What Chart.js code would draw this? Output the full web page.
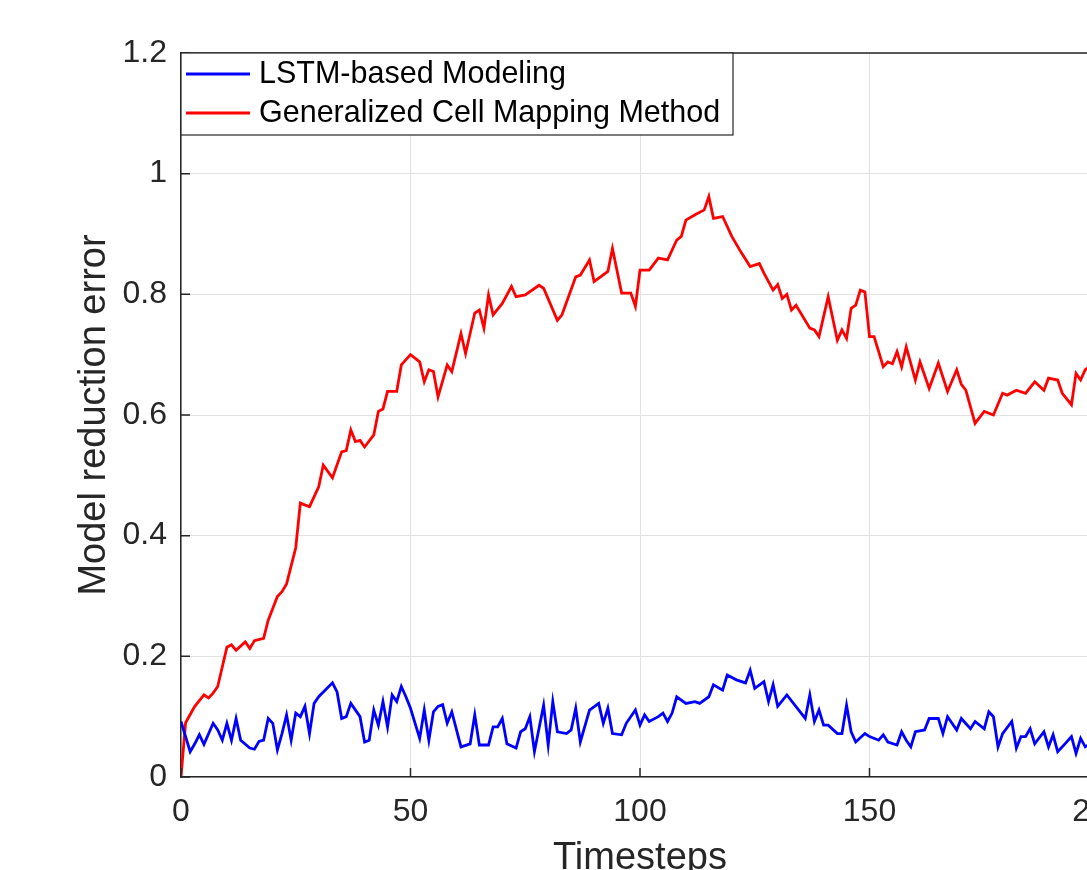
<!DOCTYPE html>
<html>
<head>
<meta charset="utf-8">
<script src="https://cdn.jsdelivr.net/npm/chart.js@4.4.1/dist/chart.umd.min.js"></script>
<style>
  html, body { margin: 0; padding: 0; background: #fff; overflow: hidden; }
  #wrap { width: 1087px; height: 870px; overflow: hidden; }
</style>
</head>
<body>
<div id="wrap"><canvas id="chart" width="1100" height="870"></canvas></div>
<script>
// Series (timestep, error)
const lstmSteps = [0,2,3,4,5,7,8,9,10,11,12,13,15,16,17,18,19,20,21,22,23,24,25,26,27,28,29,30,33,34,35,36,37,39,40,41,42,43,44,45,46,47,48,49,50,52,53,54,55,56,57,58,59,61,63,64,65,67,68,69,70,71,73,74,75,76,77,79,80,81,82,84,85,86,87,89,91,92,93,94,96,97,99,100,101,102,104,105,106,107,108,110,112,113,115,116,118,119,121,123,124,125,127,128,129,130,132,136,137,138,139,140,141,143,144,145,146,147,149,150,152,153,154,156,157,158,159,160,162,163,165,166,167,169,170,172,173,175,176,177,178,179,181,182,183,184,185,186,188,189,190,191,192,194,195,196,197,198];
const lstmError = [0.092,0.042,0.055,0.07,0.054,0.089,0.078,0.061,0.089,0.061,0.097,0.061,0.048,0.046,0.059,0.061,0.097,0.089,0.045,0.072,0.103,0.061,0.106,0.1,0.117,0.072,0.122,0.133,0.156,0.141,0.097,0.1,0.122,0.1,0.058,0.061,0.111,0.086,0.125,0.083,0.136,0.125,0.15,0.133,0.114,0.064,0.111,0.061,0.108,0.117,0.12,0.089,0.108,0.05,0.055,0.103,0.053,0.053,0.083,0.083,0.097,0.055,0.048,0.075,0.08,0.1,0.042,0.119,0.053,0.125,0.075,0.072,0.078,0.114,0.058,0.111,0.122,0.089,0.114,0.072,0.07,0.089,0.111,0.086,0.103,0.092,0.1,0.106,0.092,0.106,0.133,0.122,0.125,0.122,0.133,0.153,0.144,0.169,0.161,0.156,0.177,0.147,0.158,0.125,0.153,0.117,0.136,0.097,0.136,0.092,0.111,0.086,0.086,0.072,0.072,0.119,0.075,0.058,0.072,0.067,0.061,0.07,0.058,0.053,0.075,0.061,0.05,0.075,0.078,0.097,0.097,0.072,0.1,0.078,0.097,0.08,0.092,0.08,0.108,0.1,0.05,0.072,0.092,0.048,0.067,0.067,0.08,0.055,0.075,0.05,0.07,0.042,0.05,0.067,0.039,0.064,0.05,0.055];

const gcmSteps = [0,1,3,5,6,7,8,10,11,12,14,15,16,18,19,21,22,23,25,26,28,30,31,33,35,36,37,38,39,40,42,43,44,45,47,48,50,52,53,54,55,56,58,59,61,62,64,65,66,67,68,70,72,73,75,78,79,82,83,86,87,89,90,93,94,96,98,99,100,102,104,106,108,109,110,112,114,115,116,118,120,122,124,126,127,129,130,131,132,133,134,137,138,139,141,143,144,145,146,147,148,149,150,151,153,154,155,156,157,158,160,161,163,165,167,169,170,171,173,175,177,179,180,182,184,186,188,189,191,192,194,195,196,197,198];
const gcmError = [0,0.09,0.117,0.136,0.131,0.139,0.15,0.215,0.219,0.21,0.224,0.213,0.226,0.23,0.26,0.299,0.307,0.32,0.38,0.454,0.448,0.481,0.517,0.496,0.539,0.541,0.575,0.556,0.558,0.547,0.567,0.606,0.61,0.639,0.639,0.683,0.7,0.688,0.655,0.675,0.672,0.63,0.683,0.672,0.735,0.702,0.769,0.774,0.744,0.799,0.766,0.785,0.813,0.796,0.799,0.815,0.81,0.757,0.766,0.829,0.832,0.857,0.821,0.838,0.876,0.802,0.802,0.78,0.84,0.84,0.86,0.857,0.89,0.896,0.923,0.932,0.94,0.962,0.926,0.929,0.896,0.87,0.846,0.851,0.835,0.807,0.816,0.793,0.8,0.774,0.782,0.744,0.741,0.73,0.796,0.724,0.741,0.727,0.777,0.782,0.807,0.804,0.73,0.73,0.68,0.688,0.685,0.705,0.68,0.713,0.658,0.688,0.644,0.686,0.639,0.675,0.651,0.641,0.586,0.606,0.6,0.636,0.633,0.641,0.636,0.655,0.641,0.661,0.658,0.636,0.617,0.669,0.658,0.675,0.68];

const seriesNames = ['LSTM-based Modeling', 'Generalized Cell Mapping Method'];
const seriesColors = ['#0000ff', '#ff0000'];

const ink = '#262626';
const gridGray = '#e2e2e2';
const fontFamily = '"Liberation Sans", Arial, Helvetica, sans-serif';

function toPoints(xs, ys) {
  return xs.map((x, i) => ({ x: x, y: ys[i] }));
}

// Matlab-ish frame: top border line, inward ticks and the boxed legend
const matlabFrame = {
  id: 'matlabFrame',
  afterDatasetsDraw(chart) {
    const ctx = chart.ctx;
    const area = chart.chartArea;
    const xs = chart.scales.x;
    const ys = chart.scales.y;
    ctx.save();
    ctx.strokeStyle = ink;
    ctx.lineWidth = 1.5;
    ctx.beginPath();
    ctx.moveTo(area.left, area.top);
    ctx.lineTo(area.right, area.top);
    ctx.stroke();

    // inward ticks
    ctx.beginPath();
    ys.ticks.forEach(t => {
      const py = ys.getPixelForValue(t.value);
      ctx.moveTo(area.left, py);
      ctx.lineTo(area.left + 9, py);
    });
    xs.ticks.forEach(t => {
      const px = xs.getPixelForValue(t.value);
      ctx.moveTo(px, area.bottom);
      ctx.lineTo(px, area.bottom - 9);
    });
    ctx.stroke();

    // legend box
    const boxL = area.left, boxT = area.top, boxR = 733, boxB = 135;
    ctx.fillStyle = '#fff';
    ctx.fillRect(boxL, boxT, boxR - boxL, boxB - boxT);
    ctx.strokeStyle = ink;
    ctx.lineWidth = 1.2;
    ctx.strokeRect(boxL, boxT, boxR - boxL, boxB - boxT);
    const rows = [74, 113];
    ctx.font = '30.5px ' + fontFamily;
    ctx.textBaseline = 'middle';
    ctx.textAlign = 'left';
    seriesNames.forEach((name, i) => {
      ctx.strokeStyle = seriesColors[i];
      ctx.lineWidth = 2.8;
      ctx.beginPath();
      ctx.moveTo(186, rows[i]);
      ctx.lineTo(250, rows[i]);
      ctx.stroke();
      ctx.fillStyle = '#000';
      ctx.fillText(name, 259, rows[i] + 1);
    });
    ctx.restore();
  }
};

new Chart(document.getElementById('chart'), {
  type: 'line',
  data: {
    datasets: [
      {
        label: seriesNames[0],
        data: toPoints(lstmSteps, lstmError),
        borderColor: seriesColors[0],
        borderWidth: 2.8,
        pointRadius: 0,
        tension: 0,
        fill: false
      },
      {
        label: seriesNames[1],
        data: toPoints(gcmSteps, gcmError),
        borderColor: seriesColors[1],
        borderWidth: 2.8,
        pointRadius: 0,
        tension: 0,
        fill: false
      }
    ]
  },
  options: {
    responsive: false,
    animation: false,
    devicePixelRatio: 1,
    layout: { padding: { top: 53, right: 1, left: 0, bottom: 0 } },
    plugins: {
      legend: { display: false },
      tooltip: { enabled: false }
    },
    scales: {
      x: {
        type: 'linear',
        min: 0,
        max: 200,
        afterFit: scale => {
          scale.height = 93;
          scale.paddingRight = 0;
        },
        ticks: {
          stepSize: 50,
          color: ink,
          padding: 16,
          maxRotation: 0,
          font: { family: fontFamily, size: 32 }
        },
        grid: { color: gridGray, lineWidth: 1, drawTicks: false },
        border: { color: ink, width: 1.5 },
        title: {
          display: true,
          text: 'Timesteps',
          color: ink,
          padding: { top: 0, bottom: -11 },
          font: { family: fontFamily, size: 38 }
        }
      },
      y: {
        min: 0,
        max: 1.2,
        afterFit: scale => { scale.width = 181; },
        ticks: {
          stepSize: 0.2,
          color: ink,
          padding: 14,
          font: { family: fontFamily, size: 32 },
          callback: v => String(Number(v.toFixed(1)))
        },
        grid: { color: gridGray, lineWidth: 1, drawTicks: false },
        border: { color: ink, width: 1.5 },
        title: {
          display: true,
          text: 'Model reduction error',
          color: ink,
          padding: { top: 72, bottom: 0 },
          font: { family: fontFamily, size: 38 }
        }
      }
    }
  },
  plugins: [matlabFrame]
});
</script>
</body>
</html>
